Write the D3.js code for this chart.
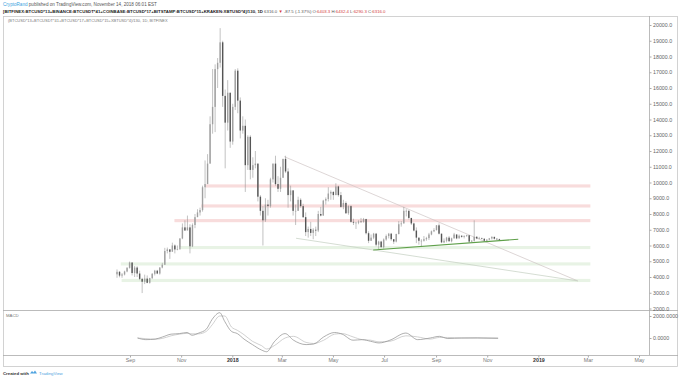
<!DOCTYPE html>
<html><head><meta charset="utf-8">
<script src="https://cdn.jsdelivr.net/npm/d3@7/dist/d3.min.js"></script>
<style>body{margin:0;background:#fff}svg{display:block;font-family:"Liberation Sans",Arial,sans-serif}</style>
</head><body>
<svg id="c" width="680" height="378"></svg>
<script>
// ---- data ----
const candleStart = "2017-08-15";   // 3-day candles
const candleStepDays = 3;
const firstOpen = 4170;
const closes = [4330,4090,4160,4350,4580,4920,4250,4600,4220,3880,
3700,3900,3630,3930,4200,4400,4220,4600,4780,5650,
5750,5600,6000,5750,5750,6450,7150,6950,7150,5950,
7300,7800,8100,8250,9700,9900,11200,13700,14800,17200,
17600,18900,15500,13800,15700,12600,14800,17100,15200,13300,
13600,11100,12900,10800,11100,11200,9100,8200,7600,8600,
8500,10200,11200,9900,9600,10300,11500,10700,9200,9500,
8200,8200,8900,8500,7800,6850,7050,6800,7000,6950,
8000,7900,8850,8950,9300,9400,9200,9750,9200,8450,
8700,8050,8500,7500,7450,7450,7520,7500,7680,6780,
6300,6500,6750,6050,6250,5900,6380,6600,6750,6400,
6250,6730,7350,7400,8200,8200,7750,7400,6950,6500,
6300,6300,6400,6470,6700,6900,6980,7280,6750,6200,
6300,6500,6270,6450,6700,6450,6620,6550,6600,6650,
6250,6300,6550,6450,6450,6430,6300,6370,6450,6550,
6430,6400,6316];
const highs = [4480,4370,4250,4400,4630,4980,4930,4700,4680,4400,
3950,4150,4100,3950,4250,4450,4450,4620,4900,5850,
5870,5780,6180,6070,6000,6450,7400,7600,7900,7350,
7400,8000,8300,8400,9800,11400,11800,14200,17200,17500,
17900,19800,19000,15900,16500,15700,15000,17200,17250,15400,
14200,14000,13000,13000,11600,12000,11200,9200,8500,9000,
8900,10300,11200,11700,10400,11000,11500,11700,10900,9800,
9500,8600,9100,9000,8650,8100,7200,7500,7100,7200,
8200,8450,8900,9050,9700,9500,9450,9950,9800,9400,
8900,8800,8550,8550,7700,7500,7600,7750,7750,7700,
6900,6700,6800,6800,6300,6300,6450,6700,6800,6800,
6400,6750,7550,7550,8450,8300,8250,7750,7450,7150,
6500,6400,6600,6550,6800,6950,7100,7300,7400,6750,
6450,6550,6600,6500,6800,6700,6700,6650,6650,6680,
6650,6350,7600,6600,6550,6500,6450,6400,6480,6580,
6550,6450,6432];
const lows = [3950,3980,3950,4100,4300,4530,4100,4000,4000,3800,
2980,3550,3600,3580,3870,4100,4180,4150,4550,4760,
5500,5150,5700,5500,5700,5900,6400,6950,7000,5500,
5900,7100,7800,7900,8150,9000,9900,11200,13100,13200,
16000,17300,14800,10900,13300,12200,12400,14600,14400,12800,
13100,9400,10800,10200,10300,10900,8800,7900,6000,7500,
7900,8400,10000,9800,9400,9400,10300,10600,8400,8800,
7900,7300,8200,8400,7750,6600,6500,6600,6400,6600,
6850,7850,7900,8600,8800,8900,8900,9200,9100,8400,
8300,8000,7950,7450,7300,7050,7350,7450,7450,6700,
6150,6300,6400,5950,5750,5850,5800,6300,6450,6300,
6100,6200,6700,7200,7400,7850,7650,7300,6900,6150,
6050,5900,6250,6300,6350,6650,6850,6950,6700,6150,
6150,6200,6250,6200,6450,6400,6450,6500,6450,6550,
6180,6200,6250,6400,6420,6400,6250,6280,6330,6380,
6380,6350,6290];

// horizontal zones [start date, low, high]
const redZones = [["2017-11-30",9680,9880],["2017-11-25",8410,8610],["2017-10-24",7480,7680]];
const greenZones = [["2017-10-30",5770,5970],["2017-08-21",4730,4930],["2017-08-22",3680,3880]];
const zoneEnd = "2019-03-04";

// trend lines [date, value] pairs
const upperTrend = [["2018-03-04",11640],["2019-02-17",3750]];
const lowerTrend = [["2018-03-18",6460],["2019-02-17",3750]];
const supportLine = [["2018-06-18",5714],["2018-12-08",6394]];

// MACD
const macdDates = ["2017-09-10","2017-09-20","2017-10-01","2017-10-10","2017-10-20","2017-10-30","2017-11-08","2017-11-14","2017-11-22","2017-12-01","2017-12-08","2017-12-17","2017-12-23","2017-12-31","2018-01-07","2018-01-15","2018-01-25","2018-02-05","2018-02-11","2018-02-20","2018-03-05","2018-03-15","2018-03-30","2018-04-08","2018-04-20","2018-05-03","2018-05-12","2018-05-25","2018-06-05","2018-06-15","2018-06-25","2018-07-08","2018-07-27","2018-08-10","2018-08-25","2018-09-05","2018-09-15","2018-10-01","2018-10-20","2018-11-14"];
const macdValues = [0,-150,-100,100,350,400,500,250,450,800,1700,2300,1500,600,400,-100,-600,-1100,-1250,-350,400,-200,-600,-550,100,500,350,-200,-150,-300,-450,-200,450,-150,0,150,-50,0,0,-30];
const signalValues = [0,-60,-110,-30,200,350,420,380,380,600,1200,2000,2000,1000,700,300,-300,-700,-1000,-700,0,150,-400,-500,-200,350,400,100,-150,-200,-350,-300,200,100,-100,50,50,0,20,0];

const priceTicks = d3.range(2000, 20001, 1000);
const macdTicks = [0, 2000];
const timeTicks = ["2017-09-01","2017-11-01","2018-01-01","2018-03-01","2018-05-01","2018-07-01","2018-09-01","2018-11-01","2019-01-01","2019-03-01","2019-05-01"];

// ---- drawing ----
const svg = d3.select("#c");
const P = d3.timeParse("%Y-%m-%d");
const L = 3, R = 678, AX = 649, TOP = 16, SEP = 310, MBOT = 355, BOT = 366;

const x = d3.scaleTime().domain([P("2017-09-01"), P("2019-05-01")]).range([130, 639]);
const y = d3.scaleLinear().domain([3000, 20000]).range([292.75, 25]);
const ym = d3.scaleLinear().domain([0, 2000]).range([338, 316]);

const defs = svg.append("defs");
defs.append("clipPath").attr("id","mainClip").append("rect").attr("x",L).attr("y",TOP).attr("width",AX-L).attr("height",SEP-TOP);
defs.append("clipPath").attr("id","macdClip").append("rect").attr("x",L).attr("y",SEP).attr("width",AX-L).attr("height",MBOT-SEP);
defs.append("clipPath").attr("id","axClip").append("rect").attr("x",AX).attr("y",TOP).attr("width",R-AX).attr("height",SEP-TOP+1);

// header
const h1 = svg.append("text").attr("x",3).attr("y",6).attr("font-size",4.6).attr("fill","#555");
h1.append("tspan").attr("fill","#3b9fe0").text("CryptoRand");
h1.append("tspan").text(" published on TradingView.com, November 14, 2018 06:01 EST");
const h2 = svg.append("text").attr("x",3).attr("y",12.5).attr("font-size",4.3).attr("fill","#333");
h2.append("tspan").attr("font-weight","bold").attr("fill","#222").text("[BITFINEX:BTCUSD*13+BINANCE:BTCUSDT*41+COINBASE:BTCUSD*17+BITSTAMP:BTCUSD*15+KRAKEN:XBTUSD*4]/130, 1D");
h2.append("tspan").attr("fill","#555").text(" 6316.0 ");
h2.append("tspan").attr("fill","#d43c3c").text("▼");
h2.append("tspan").attr("fill","#555").text(" -87.5 (-1.37%) O:");
h2.append("tspan").attr("fill","#d43c3c").text("6403.3");
h2.append("tspan").attr("fill","#555").text(" H:");
h2.append("tspan").attr("fill","#d43c3c").text("6432.4");
h2.append("tspan").attr("fill","#555").text(" L:");
h2.append("tspan").attr("fill","#d43c3c").text("6290.3");
h2.append("tspan").attr("fill","#555").text(" C:");
h2.append("tspan").attr("fill","#d43c3c").text("6316.0");

// frame
svg.append("rect").attr("x",L+0.5).attr("y",TOP+0.5).attr("width",R-L-1).attr("height",BOT-TOP).attr("fill","none").attr("stroke","#c8c8c8").attr("stroke-width",0.8);
svg.append("line").attr("x1",L).attr("x2",R).attr("y1",SEP+0.5).attr("y2",SEP+0.5).attr("stroke","#aaa").attr("stroke-width",0.8);
svg.append("line").attr("x1",L).attr("x2",R).attr("y1",MBOT+0.5).attr("y2",MBOT+0.5).attr("stroke","#aaa").attr("stroke-width",0.8);
svg.append("line").attr("x1",AX+0.5).attr("x2",AX+0.5).attr("y1",TOP).attr("y2",MBOT).attr("stroke","#aaa").attr("stroke-width",0.8);

// inner symbol label
svg.append("text").attr("x",8).attr("y",21.5).attr("font-size",4).attr("fill","#777")
  .text("(BTCUSD*13+BTCUSDT*41+BTCUSD*17+BTCUSD*15+XBTUSD*4)/130, 1D, BITFINEX");

const main = svg.append("g").attr("clip-path","url(#mainClip)");

// zones
function zones(list, fill){
  main.append("g").selectAll("rect").data(list).join("rect")
    .attr("x", d => x(P(d[0]))).attr("width", d => x(P(zoneEnd)) - x(P(d[0])))
    .attr("y", d => y(d[2])).attr("height", d => y(d[1]) - y(d[2]))
    .attr("fill", fill);
}
zones(redZones, "#f8dcdc");
zones(greenZones, "#e8f3e5");

// trend lines
const lineGen = d3.line().x(d => x(P(d[0]))).y(d => y(d[1]));
main.append("path").attr("d", lineGen(upperTrend)).attr("fill","none").attr("stroke","#cfc4c4").attr("stroke-width",0.7);
main.append("path").attr("d", lineGen(lowerTrend)).attr("fill","none").attr("stroke","#c3cfc0").attr("stroke-width",0.7);

// candles
const t0 = P(candleStart);
const candles = closes.map((c, i) => ({
  t: d3.timeDay.offset(t0, i * candleStepDays),
  o: i === 0 ? firstOpen : closes[i - 1], c, h: highs[i], l: lows[i]
}));
const cx = d => x(d3.timeHour.offset(d.t, 36));
const bw = 1.4;
const cg = main.append("g");
cg.selectAll("line").data(candles).join("line")
  .attr("x1", d => cx(d)).attr("x2", d => cx(d))
  .attr("y1", d => y(d.h)).attr("y2", d => y(d.l))
  .attr("stroke", "#8f8f8f").attr("stroke-width", 0.55);
cg.selectAll("rect").data(candles).join("rect")
  .attr("x", d => cx(d) - bw / 2).attr("width", bw)
  .attr("y", d => y(Math.max(d.o, d.c)))
  .attr("height", d => Math.max(0.6, Math.abs(y(d.o) - y(d.c))))
  .attr("fill", d => d.c >= d.o ? "#a0a0a0" : "#555");

// support line (drawn over candles)
main.append("path").attr("d", lineGen(supportLine)).attr("fill","none").attr("stroke","#5fa04a").attr("stroke-width",1.1);

// price axis
const yaWrap = svg.append("g").attr("clip-path","url(#axClip)");
const ya = yaWrap.append("g").attr("transform",`translate(${AX+0.5},0)`)
  .call(d3.axisRight(y).tickValues(priceTicks).tickSize(2).tickFormat(d3.format(".1f")));
ya.select(".domain").remove();
ya.selectAll("line").attr("stroke","#aaa");
ya.selectAll("text").attr("font-size",5.3).attr("fill","#666").attr("x",3.5).attr("font-family","Liberation Sans, Arial, sans-serif");

// MACD pane
svg.append("text").attr("x",6).attr("y",316.5).attr("font-size",4.3).attr("fill","#777").text("MACD");
const mg = svg.append("g").attr("clip-path","url(#macdClip)");
const mline = vals => d3.line().curve(d3.curveMonotoneX).x((d,i) => x(P(macdDates[i]))).y(d => ym(d))(vals);
mg.append("path").attr("d", mline(signalValues)).attr("fill","none").attr("stroke","#bdbdbd").attr("stroke-width",0.7);
mg.append("path").attr("d", mline(macdValues)).attr("fill","none").attr("stroke","#8c8c8c").attr("stroke-width",0.7);
const ma = svg.append("g").attr("transform",`translate(${AX+0.5},0)`)
  .call(d3.axisRight(ym).tickValues(macdTicks).tickSize(2).tickFormat(d3.format(".4f")));
ma.select(".domain").remove();
ma.selectAll("line").attr("stroke","#aaa");
ma.selectAll("text").attr("font-size",5.3).attr("fill","#666").attr("x",3.5).attr("font-family","Liberation Sans, Arial, sans-serif");

// time axis
const xa = svg.append("g").attr("transform",`translate(0,${MBOT+0.5})`)
  .call(d3.axisBottom(x).tickValues(timeTicks.map(P)).tickSize(2)
    .tickFormat(d => d.getMonth() === 0 ? d3.timeFormat("%Y")(d) : d3.timeFormat("%b")(d)));
xa.select(".domain").remove();
xa.selectAll("line").attr("stroke","#aaa");
xa.selectAll("text").attr("font-size",5.3).attr("fill", d => d.getMonth() === 0 ? "#333" : "#777")
  .attr("font-weight", d => d.getMonth() === 0 ? "bold" : "normal").attr("y",3)
  .attr("font-family","Liberation Sans, Arial, sans-serif");

// footer
svg.append("text").attr("x",3).attr("y",374.5).attr("font-size",4.3).attr("fill","#333").attr("font-weight","bold").text("Created with");
const logo = svg.append("g").attr("transform","translate(30,370.5)");
logo.append("path").attr("d","M0,3 L2,0.5 L3.5,2 L5,0 L7,3 Z").attr("fill","#4fa3e0");
svg.append("text").attr("x",39).attr("y",374.5).attr("font-size",4.3).attr("fill","#4fa3e0").text("TradingView");
</script>
</body></html>
